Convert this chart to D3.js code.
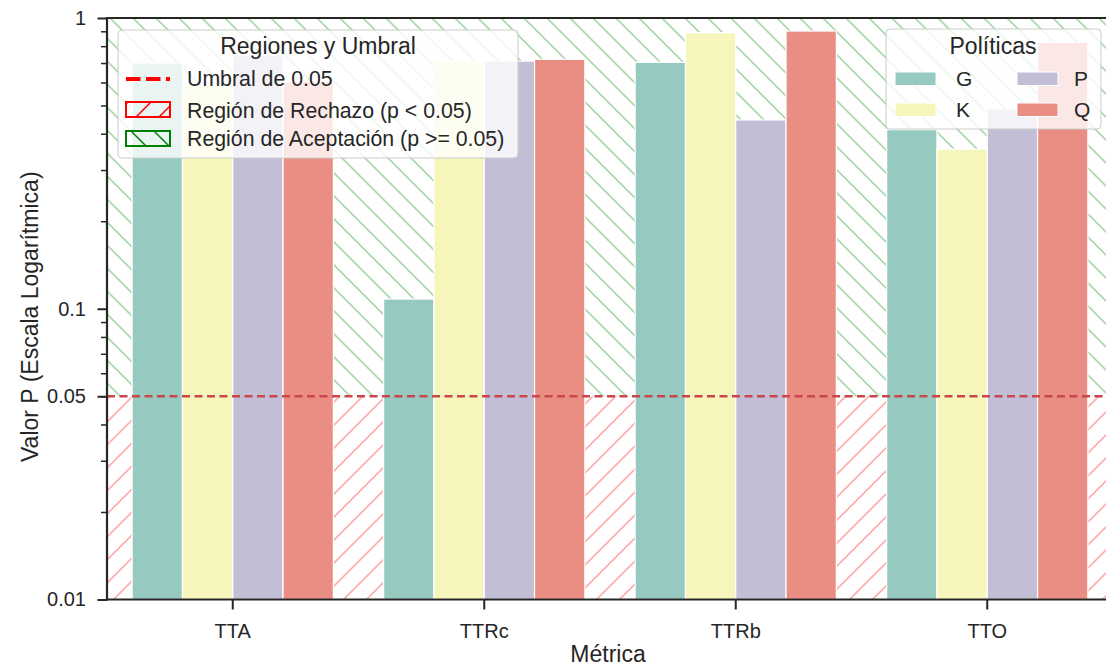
<!DOCTYPE html>
<html>
<head>
<meta charset="utf-8">
<script src="https://cdn.jsdelivr.net/npm/d3@7"></script>
<style>
  html, body { margin: 0; padding: 0; background: #ffffff; }
  svg { display: block; font-family: "Liberation Sans", Arial, sans-serif; }
</style>
</head>
<body>
<svg id="chart" width="1106" height="666"></svg>
<script>
// ---------------- data ----------------
const categories = ["TTA", "TTRc", "TTRb", "TTO"];
const policies = ["G", "K", "P", "Q"];
const valuesG = [0.70, 0.108, 0.704, 0.413];
const valuesK = [0.585, 0.708, 0.89, 0.354];
const valuesP = [0.746, 0.711, 0.446, 0.487];
const valuesQ = [0.604, 0.721, 0.902, 0.825];
const policyColors = ["#96cac1", "#f6f6bc", "#c1bed6", "#ea8e83"];
const yTickValues = [0.01, 0.05, 0.1, 1];
const yTickLabels = ["0.01", "0.05", "0.1", "1"];
const yMinorTicks = [0.02, 0.03, 0.04, 0.05, 0.06, 0.07, 0.08, 0.09, 0.2, 0.3, 0.4, 0.5, 0.6, 0.7, 0.8, 0.9];
const threshold = 0.05;
const regionLabels = ["Umbral de 0.05", "Región de Rechazo (p < 0.05)", "Región de Aceptación (p >= 0.05)"];
const regionLegendTitle = "Regiones y Umbral";
const policyLegendTitle = "Políticas";
const xLabel = "Métrica";
const yLabel = "Valor P (Escala Logarítmica)";

const seriesValues = [valuesG, valuesK, valuesP, valuesQ];
const rows = [];
categories.forEach((c, i) => policies.forEach((p, j) => rows.push({cat: c, pol: p, v: seriesValues[j][i], color: policyColors[j]})));

// ---------------- layout ----------------
const svg = d3.select("#chart");
const L = 107, R = 1113, T = 18, B = 599.5;
const ink = "#262626";

const x = d3.scaleBand().domain(categories).range([L, R]).paddingInner(0.2).paddingOuter(0.1);
const xi = d3.scaleBand().domain(policies).range([0, x.bandwidth()]);
const y = d3.scaleLog().domain([0.01, 1]).range([B, T]);

// hatch patterns
const defs = svg.append("defs");
function hatch(id, color, dir, sw, size) {
  const p = defs.append("pattern").attr("id", id).attr("patternUnits", "userSpaceOnUse")
    .attr("width", size).attr("height", size);
  const s = size;
  const d = dir === "/"
    ? `M0,${s} L${s},0 M${-s/4},${s/4} L${s/4},${-s/4} M${s*3/4},${s*5/4} L${s*5/4},${s*3/4}`
    : `M0,0 L${s},${s} M${-s/4},${s*3/4} L${s/4},${s*5/4} M${s*3/4},${-s/4} L${s*5/4},${s/4}`;
  p.append("path").attr("d", d).attr("stroke", color).attr("stroke-width", sw).attr("fill", "none");
}
hatch("hRed", "#ffb0b0", "/", 1.8, 23);
hatch("hGreen", "#addaad", "\\", 1.8, 23);
hatch("hRedL", "#ff0000", "/", 1.5, 23);
hatch("hGreenL", "#008000", "\\", 1.5, 23);

const plot = svg.append("g");
// regions
plot.append("rect").attr("x", L).attr("width", R - L)
  .attr("y", y(1)).attr("height", y(threshold) - y(1)).attr("fill", "url(#hGreen)");
plot.append("rect").attr("x", L).attr("width", R - L)
  .attr("y", y(threshold)).attr("height", y(0.01) - y(threshold)).attr("fill", "url(#hRed)");

// bars
plot.selectAll("rect.bar").data(rows).enter().append("rect").attr("class", "bar")
  .attr("x", d => x(d.cat) + xi(d.pol))
  .attr("width", xi.bandwidth())
  .attr("y", d => y(d.v))
  .attr("height", d => y(0.01) - y(d.v))
  .attr("fill", d => d.color)
  .attr("stroke", "#ffffff").attr("stroke-width", 1.2);

// threshold line
plot.append("line").attr("x1", L).attr("x2", R).attr("y1", y(threshold)).attr("y2", y(threshold))
  .attr("stroke", "#c9474b").attr("stroke-width", 2.3).attr("stroke-dasharray", "8,4.5");

// axes
const yAxis = d3.axisLeft(y).tickValues(yTickValues).tickFormat((d, i) => yTickLabels[i])
  .tickSize(9.5).tickPadding(11.5).tickSizeOuter(0);
const gy = svg.append("g").attr("transform", `translate(${L},0)`).call(yAxis);
gy.select(".domain").remove();
gy.selectAll(".tick line").attr("stroke", ink).attr("stroke-width", 2);
gy.selectAll(".tick text").attr("fill", ink).attr("font-size", 20).attr("font-family", "Liberation Sans, Arial, sans-serif");

const gyMinor = svg.append("g").attr("transform", `translate(${L},0)`)
  .call(d3.axisLeft(y).tickValues(yMinorTicks).tickFormat("").tickSize(6).tickSizeOuter(0));
gyMinor.select(".domain").remove();
gyMinor.selectAll(".tick line").attr("stroke", ink).attr("stroke-width", 1.5);

const xAxis = d3.axisBottom(x).tickSize(10).tickPadding(13.8).tickSizeOuter(0);
const gx = svg.append("g").attr("transform", `translate(0,${B})`).call(xAxis);
gx.select(".domain").remove();
gx.selectAll(".tick line").attr("stroke", ink).attr("stroke-width", 2);
gx.selectAll(".tick text").attr("fill", ink).attr("font-size", 20).attr("font-family", "Liberation Sans, Arial, sans-serif");

// spines
svg.append("line").attr("x1", L).attr("x2", L).attr("y1", T - 1).attr("y2", B + 1).attr("stroke", ink).attr("stroke-width", 2.2);
svg.append("line").attr("x1", L - 1).attr("x2", R).attr("y1", B).attr("y2", B).attr("stroke", ink).attr("stroke-width", 2.2);
svg.append("line").attr("x1", L - 1).attr("x2", R).attr("y1", T).attr("y2", T).attr("stroke", ink).attr("stroke-width", 2.2);
svg.append("line").attr("x1", R).attr("x2", R).attr("y1", T).attr("y2", B).attr("stroke", ink).attr("stroke-width", 2.2);

// axis labels
svg.append("text").attr("x", (L + R) / 2 - 2).attr("y", 662).attr("text-anchor", "middle")
  .attr("font-size", 23).attr("fill", ink).text(xLabel);
svg.append("text").attr("transform", `translate(38,${(T + B) / 2 + 8}) rotate(-90)`).attr("text-anchor", "middle")
  .attr("font-size", 23).attr("fill", ink).text(yLabel);

// legend 1: regions
const lg1 = svg.append("g");
lg1.append("rect").attr("x", 118).attr("y", 30).attr("width", 400).attr("height", 128).attr("rx", 4)
  .attr("fill", "#ffffff").attr("fill-opacity", 0.8).attr("stroke", "#cccccc").attr("stroke-width", 1);
lg1.append("text").attr("x", 318).attr("y", 54).attr("text-anchor", "middle").attr("font-size", 23).attr("fill", ink).text(regionLegendTitle);
lg1.append("line").attr("x1", 126).attr("x2", 170).attr("y1", 79).attr("y2", 79)
  .attr("stroke", "#ff0000").attr("stroke-width", 4).attr("stroke-dasharray", "14.5,5.5");
lg1.append("rect").attr("x", 126).attr("y", 102).attr("width", 44).attr("height", 15)
  .attr("fill", "url(#hRedL)").attr("stroke", "#ff0000").attr("stroke-width", 2);
lg1.append("rect").attr("x", 126).attr("y", 131).attr("width", 44).attr("height", 15)
  .attr("fill", "url(#hGreenL)").attr("stroke", "#008000").attr("stroke-width", 2);
[86, 117.5, 146].forEach((yy, i) => {
  lg1.append("text").attr("x", 187).attr("y", yy).attr("font-size", 21.3).attr("fill", ink).text(regionLabels[i]);
});

// legend 2: policies
const lg2 = svg.append("g");
lg2.append("rect").attr("x", 886).attr("y", 29).attr("width", 215).attr("height", 100).attr("rx", 4)
  .attr("fill", "#ffffff").attr("fill-opacity", 0.8).attr("stroke", "#cccccc").attr("stroke-width", 1);
lg2.append("text").attr("x", 993).attr("y", 53.5).attr("text-anchor", "middle").attr("font-size", 23).attr("fill", ink).text(policyLegendTitle);
const colX = [895, 1017], labX = [956, 1074], rowY = [72, 103];
policies.forEach((p, j) => {
  const c = Math.floor(j / 2), r = j % 2;
  lg2.append("rect").attr("x", colX[c]).attr("y", rowY[r]).attr("width", 41).attr("height", 13.5)
    .attr("fill", policyColors[j]).attr("stroke", "#ffffff").attr("stroke-width", 1);
  lg2.append("text").attr("x", labX[c]).attr("y", rowY[r] + 14).attr("font-size", 21).attr("fill", ink).text(p);
});
</script>
</body>
</html>
